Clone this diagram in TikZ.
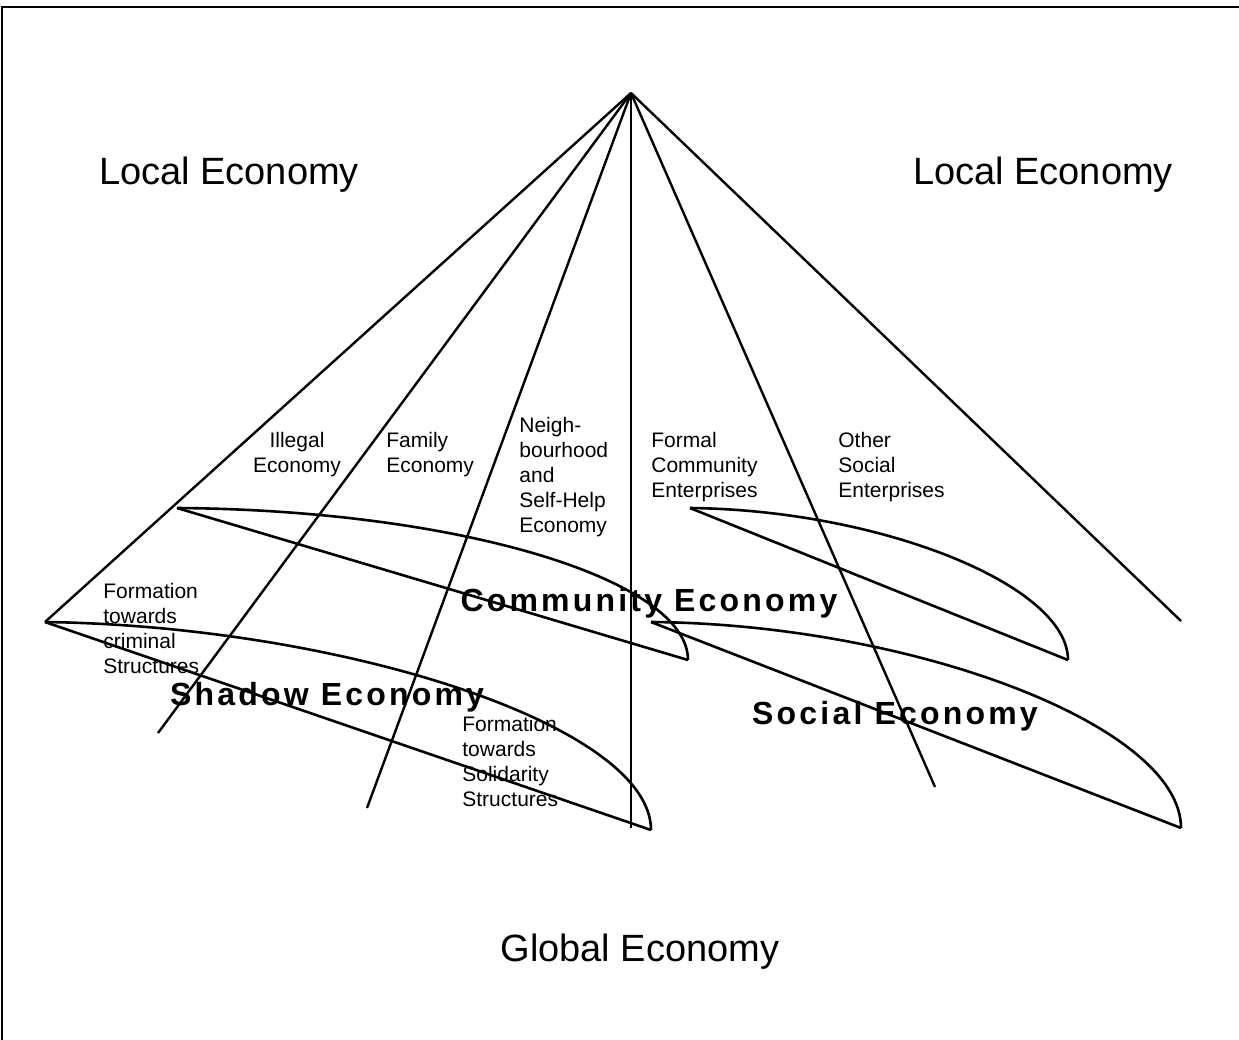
\documentclass[tikz,border=0pt]{standalone}
\usepackage{fontspec}
\setmainfont{Liberation Sans}
\newfontfamily\spacedsans[LetterSpace=10]{Liberation Sans}
\usetikzlibrary{positioning}

\tikzset{
  ray/.style={line width=1.2pt},
  leaf/.style={line width=1.3pt},
  biglabel/.style={font=\fontsize{19}{22}\selectfont, inner sep=0pt},
  sectorlabel/.style={font=\fontsize{10.5}{12.5}\selectfont, align=left, inner sep=0pt, anchor=north west},
  economylabel/.style={font=\spacedsans\bfseries\fontsize{16}{19}\selectfont, inner sep=0pt, anchor=base}
}

\begin{document}
\begin{tikzpicture}[x=0.5pt,y=-0.5pt]
  \useasboundingbox (0,0) rectangle (1239,1040);

  % Rahmen
  \draw[line width=1.3pt] (2,1050) -- (2,7) -- (1250,7);

  % Spitze und Fusspunkte
  \coordinate (apex) at (631,93);
  \coordinate (illegalend) at (45,622);
  \coordinate (familyend) at (158,733);
  \coordinate (neighend) at (367,808);
  \coordinate (formalend) at (631,828);
  \coordinate (otherend) at (935,787);
  \coordinate (rightend) at (1181,621);

  \draw[ray] (apex) -- (illegalend);
  \draw[ray] (apex) -- (familyend);
  \draw[ray] (apex) -- (neighend);
  \draw[ray] (apex) -- (formalend);
  \draw[ray] (apex) -- (otherend);
  \draw[ray] (apex) -- (rightend);

  % Schattenwirtschaft
  \coordinate (shadowtip) at (45,622);
  \coordinate (shadowend) at (651,830);
  \draw[leaf] (shadowtip) -- (shadowend);
  \draw[leaf] (shadowtip) .. controls (340,626) and (651,725) .. (shadowend);

  % Gemeinwesenoekonomie
  \coordinate (communitytip) at (177,508);
  \coordinate (communityend) at (688,660);
  \draw[leaf] (communitytip) -- (communityend);
  \draw[leaf] (communitytip) .. controls (460,510) and (688,580) .. (communityend);

  % Sonstige Sozialunternehmen
  \coordinate (othertip) at (690,508);
  \coordinate (otherleafend) at (1068,660);
  \draw[leaf] (othertip) -- (otherleafend);
  \draw[leaf] (othertip) .. controls (880,510) and (1068,585) .. (otherleafend);

  % Sozialwirtschaft
  \coordinate (socialtip) at (651,622);
  \coordinate (socialend) at (1181,828);
  \draw[leaf] (socialtip) -- (socialend);
  \draw[leaf] (socialtip) .. controls (910,624) and (1181,725) .. (socialend);

  % Beschriftungen
  \node[biglabel, anchor=base] (localleft) at (229,184) {Local Economy};
  \node[biglabel, anchor=base] (localright) at (1043,184) {Local Economy};
  \node[biglabel, anchor=base] (global) at (640,961) {Global Economy};

  \node[sectorlabel, align=center, anchor=north] (illegal) at (297,432) {Illegal\\Economy};
  \node[sectorlabel] (family) at (386,432) {Family\\Economy};
  \node[sectorlabel] (neigh) at (519,417) {Neigh-\\bourhood\\and\\Self-Help\\Economy};
  \node[sectorlabel] (formal) at (651,432) {Formal\\Community\\Enterprises};
  \node[sectorlabel] (other) at (838,432) {Other\\Social\\Enterprises};
  \node[sectorlabel] (criminal) at (103,583) {Formation\\towards\\criminal\\Structures};
  \node[sectorlabel] (solidarity) at (462,716) {Formation\\towards\\Solidarity\\Structures};

  \node[economylabel] (community) at (649,611) {Community Economy};
  \node[economylabel] (shadow) at (327,705) {Shadow Economy};
  \node[economylabel] (social) at (895,724) {Social Economy};
\end{tikzpicture}
\end{document}
